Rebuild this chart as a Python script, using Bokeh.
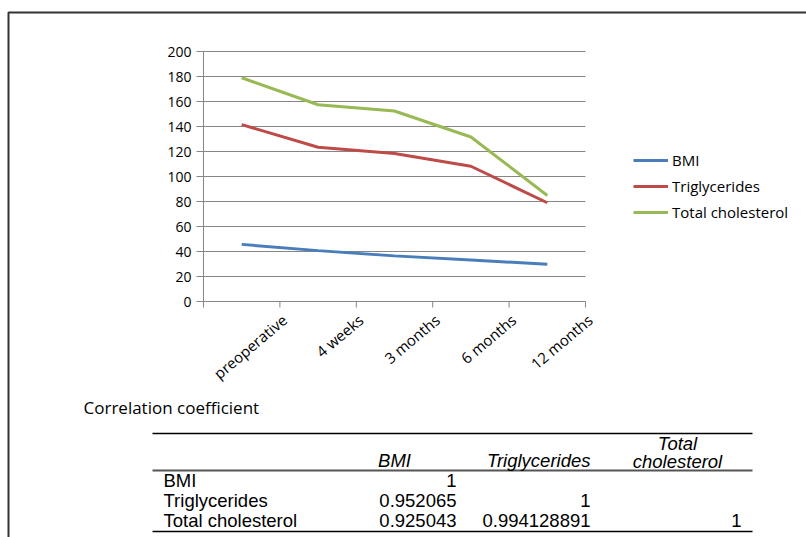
from bokeh.plotting import figure
from bokeh.models import (Range1d, LinearAxis, FixedTicker, Legend,
                          LegendItem, Label, BoxAnnotation)
from bokeh.embed import file_html
from bokeh.resources import INLINE

# ---- chart data -----------------------------------------------------------
categories = ["preoperative", "4 weeks", "3 months", "6 months", "12 months"]
bmi = [45.7, 40.7, 36.5, 33.2, 29.8]
triglycerides = [141.5, 123.4, 118.4, 108.2, 79.0]
total_cholesterol = [179.0, 157.4, 152.4, 131.6, 84.8]
y_ticks = [0, 20, 40, 60, 80, 100, 120, 140, 160, 180, 200]

# ---- correlation table data -----------------------------------------------
table_title = "Correlation coefficient"
variables = ["BMI", "Triglycerides", "Total cholesterol"]
corr_bmi = [1, 0.952065, 0.925043]
corr_triglycerides = [None, 1, 0.994128891]
corr_total_cholesterol = [None, None, 1]

# ---- page geometry (pixels from the top-left of the page) -----------------
W, H = 806, 537
LEFT, RIGHT, TOP, BOTTOM = 203, 585, 51, 301   # plot area of the line chart
TICK = 6

CHART_FONT = "Open Sans"
TABLE_FONT = "Liberation Sans"
AXIS_GRAY = "#868686"
COLORS = ["#4A7EBB", "#BE4B48", "#98B954"]

n = len(categories)
xs = [i + 0.5 for i in range(n)]
y_max = y_ticks[-1]

# the frame fills the whole page; the ranges are chosen so that the
# chart's plot area lands on LEFT..RIGHT / TOP..BOTTOM
px_x = (RIGHT - LEFT) / n
px_y = (BOTTOM - TOP) / y_max
x_range = Range1d(-LEFT / px_x, n + (W - RIGHT) / px_x)
y_range = Range1d(-(H - BOTTOM) / px_y, y_max + TOP / px_y)

p = figure(width=W, height=H, output_backend="svg", toolbar_location=None,
           x_range=x_range, y_range=y_range,
           x_axis_type=None, y_axis_type=None, min_border=0)
p.outline_line_color = None
p.background_fill_color = "white"
p.border_fill_color = "white"

# horizontal gridlines (the one at zero doubles as the category axis line)
p.segment(x0=[0] * len(y_ticks), x1=[n] * len(y_ticks),
          y0=y_ticks, y1=y_ticks, line_color=AXIS_GRAY, line_width=1)

# tick marks on the category boundaries
bounds_x = list(range(n + 1))
p.segment(x0=bounds_x, x1=bounds_x, y0=[0] * (n + 1),
          y1=[-TICK / px_y] * (n + 1), line_color=AXIS_GRAY, line_width=1)

# value axis
yaxis = LinearAxis(ticker=FixedTicker(ticks=y_ticks), fixed_location=0,
                   bounds=(0, y_max))
yaxis.axis_line_color = AXIS_GRAY
yaxis.major_tick_line_color = AXIS_GRAY
yaxis.major_tick_out = 7
yaxis.major_tick_in = 0
yaxis.minor_tick_line_color = None
yaxis.major_label_standoff = 5
yaxis.major_label_text_font = CHART_FONT
yaxis.major_label_text_font_size = "14px"
yaxis.major_label_text_color = "#000000"
p.add_layout(yaxis, "left")

# slanted category names, set off to the right of each category centre
shift = 0.56
p.extra_x_ranges = {"names": Range1d(x_range.start - 0.5 - shift,
                                     x_range.end - 0.5 - shift)}
name_axis = LinearAxis(x_range_name="names", fixed_location=0,
                       ticker=FixedTicker(ticks=list(range(n))),
                       major_label_overrides={i: c for i, c in enumerate(categories)})
name_axis.axis_line_color = None
name_axis.major_tick_line_color = None
name_axis.minor_tick_line_color = None
name_axis.major_tick_out = TICK
name_axis.major_tick_in = 0
name_axis.major_label_orientation = 0.7
name_axis.major_label_standoff = 10
name_axis.major_label_text_font = CHART_FONT
name_axis.major_label_text_font_size = "15px"
name_axis.major_label_text_color = "#000000"
p.add_layout(name_axis, "below")

# series
series = [("BMI", bmi), ("Triglycerides", triglycerides),
          ("Total cholesterol", total_cholesterol)]
items = []
for (name, vals), col in zip(series, COLORS):
    r = p.line(xs, vals, line_color=col, line_width=3)
    items.append(LegendItem(label=name, renderers=[r]))

legend = Legend(items=items, location=(633, H - 222), orientation="vertical",
                border_line_color=None, background_fill_alpha=0,
                padding=0, margin=0, spacing=6, glyph_width=35,
                glyph_height=20, label_height=20, label_standoff=4,
                label_text_font=CHART_FONT, label_text_font_size="15px",
                label_text_color="#000000")
p.add_layout(legend)


# ---- helpers for page-positioned annotations ------------------------------
def put(text, px, py, align="left", font=TABLE_FONT, size="18.5px", style="normal"):
    p.add_layout(Label(x=px, y=H - py, x_units="screen", y_units="screen",
                       text=text, text_align=align, text_baseline="middle",
                       text_font=font, text_font_size=size,
                       text_font_style=style, text_color="#000000"))


def hrule(x0, x1, py, width=1.5, color="#000000"):
    p.add_layout(BoxAnnotation(left=x0, right=x1,
                               top=H - py + width / 2,
                               bottom=H - py - width / 2,
                               left_units="screen", right_units="screen",
                               top_units="screen", bottom_units="screen",
                               fill_color=color, fill_alpha=1,
                               line_color=None))


# outer frame
p.add_layout(BoxAnnotation(left=8, right=W + 20, top=H - 12, bottom=-20,
                           left_units="screen", right_units="screen",
                           top_units="screen", bottom_units="screen",
                           fill_alpha=0, line_color="#333333",
                           line_alpha=1, line_width=2))

# ---- correlation table ----------------------------------------------------
put(table_title, 83, 407, font=CHART_FONT, size="17px")

hrule(152, 752, 433)
hrule(152, 752, 470, width=2, color="#555555")
hrule(152, 752, 531)

put(variables[0], 394, 460, align="center", style="italic")
put(variables[1], 590, 460, align="right", style="italic")
head_words = variables[2].split(" ")
put(head_words[0], 677, 443, align="center", style="italic")
put(head_words[1], 677, 461, align="center", style="italic")

row_y = [480, 500, 520]
col_right = [456, 590, 741]
columns = [corr_bmi, corr_triglycerides, corr_total_cholesterol]
for i, var in enumerate(variables):
    put(var, 163, row_y[i])
    for j, col in enumerate(columns):
        v = col[i]
        if v is not None:
            put(str(v), col_right[j], row_y[i], align="right")

open("out.html", "w").write(file_html(p, INLINE))
